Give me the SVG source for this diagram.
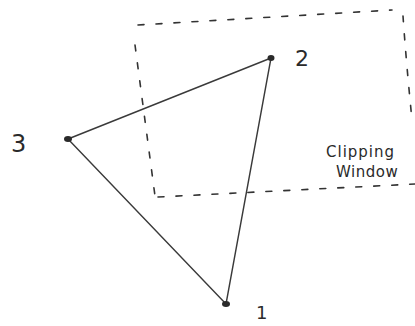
<svg xmlns="http://www.w3.org/2000/svg" width="415" height="326" viewBox="0 0 415 326">
<style>
.edge{stroke:#3a3a3a;stroke-width:1.4;fill:none;stroke-linecap:round}
.dash{stroke:#333;stroke-width:1.6;fill:none;stroke-dasharray:6 12;stroke-linecap:round}
.dot{fill:#2a2a2a}
.lbl{font-family:"DejaVu Sans",sans-serif;fill:#2a2a2a}
</style>
<rect width="415" height="326" fill="#fff"/>
<g id="clip-window">
<path class="dash" d="M138,25 L392,10"/>
<path class="dash" d="M403,16 Q406,60 412,120"/>
<path class="dash" d="M135,45 L155,196"/>
<path class="dash" d="M158,197 L415,184"/>
<text class="lbl" x="326" y="157" font-size="15" letter-spacing="1">Clipping</text>
<text class="lbl" x="336" y="177" font-size="15" letter-spacing="0.5">Window</text>
</g>
<g id="connectors">
<path class="edge" d="M68,139 L271,58"/>
<path class="edge" d="M271,58 L226,304"/>
<path class="edge" d="M226,304 L68,139"/>
</g>
<g id="v1">
<ellipse class="dot" cx="226" cy="304" rx="4" ry="3"/>
<text class="lbl" x="256" y="319" font-size="18">1</text>
</g>
<g id="v2">
<ellipse class="dot" cx="271" cy="58" rx="3.5" ry="3"/>
<text class="lbl" x="295" y="66" font-size="22">2</text>
</g>
<g id="v3">
<ellipse class="dot" cx="68" cy="139" rx="4" ry="3"/>
<text class="lbl" x="11" y="152" font-size="24">3</text>
</g>
</svg>
